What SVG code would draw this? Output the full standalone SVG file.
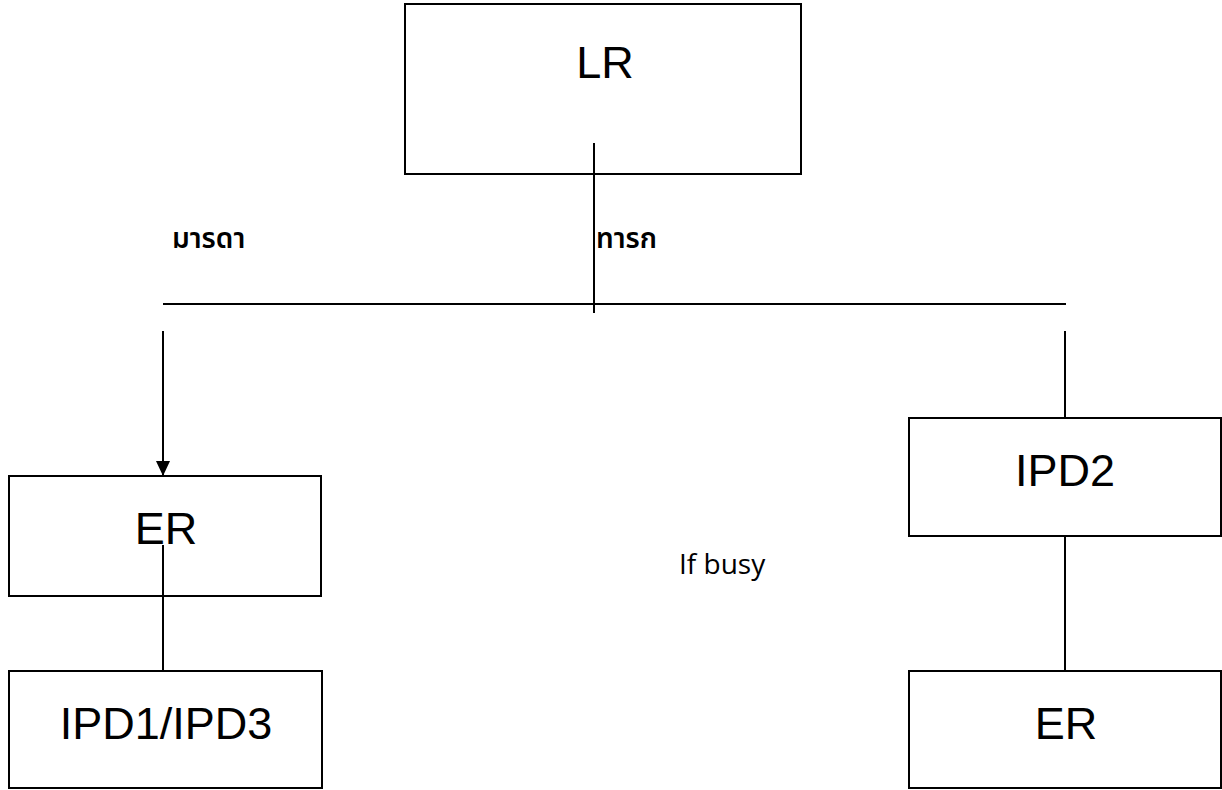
<svg xmlns="http://www.w3.org/2000/svg" width="1222" height="790" viewBox="0 0 1222 790">
<style>
.box{fill:#fff;stroke:#000;stroke-width:2}
.lbl{font-family:"Liberation Sans",Arial,sans-serif;font-size:45px;fill:#000;text-anchor:middle}
.th{font-family:"Noto Sans","Noto Sans Thai",sans-serif;font-size:28px;font-weight:600;fill:#000}
.note{font-family:"Open Sans","Noto Sans",sans-serif;font-size:28px;fill:#000}
.ln{stroke:#000;stroke-width:2;fill:none}
</style>
<defs>
<marker id="arr" markerWidth="15" markerHeight="14" refX="15" refY="7" orient="auto" markerUnits="userSpaceOnUse">
<path d="M0,0 L15,7 L0,14 Z" fill="#000"/>
</marker>
</defs>
<rect width="1222" height="790" fill="#fff"/>
<g id="node-lr"><rect class="box" x="405" y="4" width="396" height="170"/><text class="lbl" x="605" y="78">LR</text></g>
<g id="node-er1"><rect class="box" x="9" y="476" width="312" height="120"/><text class="lbl" x="166" y="544">ER</text></g>
<g id="node-ipd13"><rect class="box" x="9" y="671" width="313" height="117"/><text class="lbl" x="166" y="739">IPD1/IPD3</text></g>
<g id="node-ipd2"><rect class="box" x="909" y="418" width="312" height="118"/><text class="lbl" x="1065" y="486">IPD2</text></g>
<g id="node-er2"><rect class="box" x="909" y="671" width="312" height="117"/><text class="lbl" x="1066" y="739">ER</text></g>
<g id="connectors">
<line class="ln" x1="594" y1="143" x2="594" y2="313"/>
<line class="ln" x1="163" y1="304" x2="1066" y2="304"/>
<line class="ln" x1="163" y1="331" x2="163" y2="476" marker-end="url(#arr)"/>
<line class="ln" x1="163" y1="545" x2="163" y2="671"/>
<line class="ln" x1="1065" y1="331" x2="1065" y2="418"/>
<line class="ln" x1="1065" y1="536" x2="1065" y2="671"/>
</g>
<g id="labels">
<text class="th" x="172" y="248">มารดา</text>
<text class="th" x="596" y="248">ทารก</text>
<text class="note" x="679" y="574">If busy</text>
</g>
</svg>
